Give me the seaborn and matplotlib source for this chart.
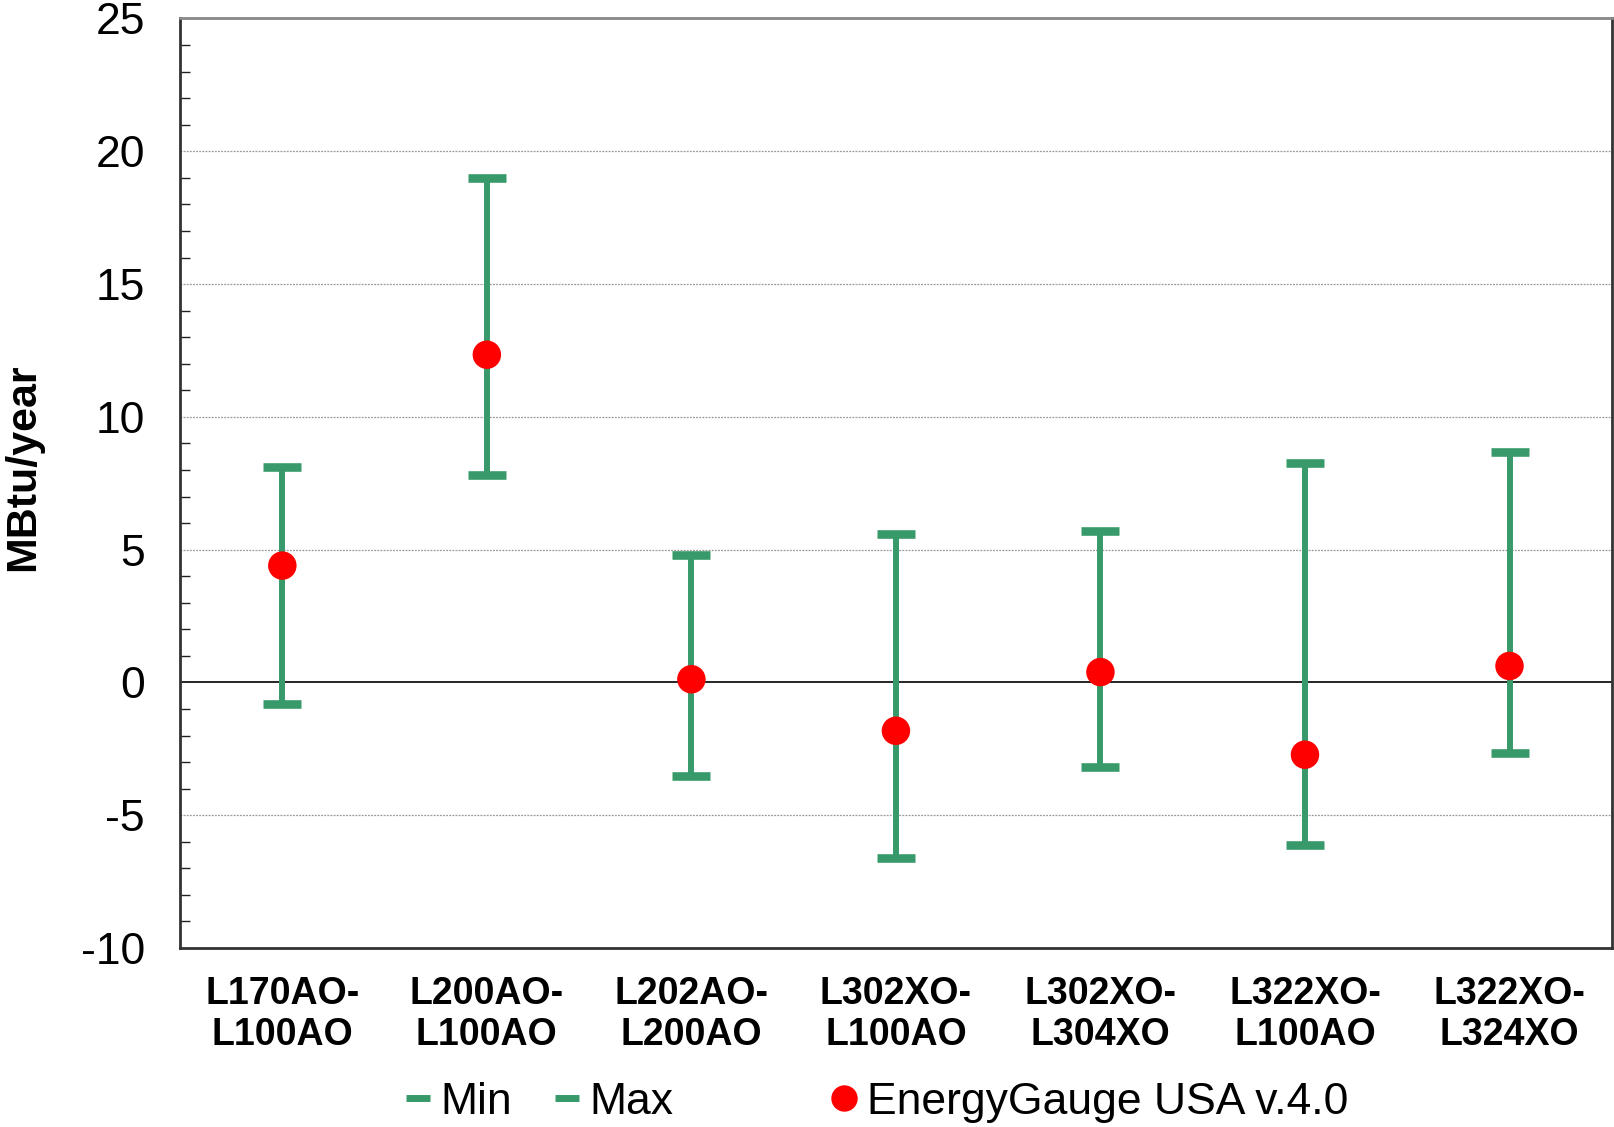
import numpy as np
import pandas as pd
import seaborn as sns
import matplotlib
matplotlib.use("Agg")
from matplotlib import pyplot as plt
from matplotlib.lines import Line2D
from matplotlib.ticker import MultipleLocator

# chart data
cases = ['L170AO-\nL100AO', 'L200AO-\nL100AO', 'L202AO-\nL200AO', 'L302XO-\nL100AO',
         'L302XO-\nL304XO', 'L322XO-\nL100AO', 'L322XO-\nL324XO']
min_vals = [-0.82, 7.8, -3.52, -6.6, -3.18, -6.13, -2.64]
max_vals = [8.1, 18.98, 4.81, 5.6, 5.7, 8.27, 8.69]
egusa_vals = [4.4, 12.34, 0.12, -1.82, 0.39, -2.72, 0.62]

green = '#389A6A'
red = '#FF0000'

sns.set_style('white')
plt.rcParams['font.family'] = ['Liberation Sans', 'DejaVu Sans']
plt.rcParams['axes.unicode_minus'] = False
plt.rcParams['text.color'] = 'black'
plt.rcParams['xtick.color'] = 'black'
plt.rcParams['ytick.color'] = 'black'
plt.rcParams['axes.labelcolor'] = 'black'

df = pd.DataFrame({'case': cases, 'Min': min_vals, 'Max': max_vals, 'EGUSA': egusa_vals})
x = np.arange(len(cases))

fig = plt.figure(figsize=(16.15, 11.27), dpi=100)
ax = fig.add_axes([0.1115, 0.1588, 0.8865, 0.8248])

# high-low lines
ax.vlines(x, df['Min'], df['Max'], color=green, linewidth=4.3, zorder=3)
# min / max dash markers
ax.plot(x, df['Min'], linestyle='none', marker='_', markersize=27, markeredgewidth=6.2,
        color=green, zorder=4)
ax.plot(x, df['Max'], linestyle='none', marker='_', markersize=27, markeredgewidth=6.2,
        color=green, zorder=4)
# EnergyGauge points
sns.scatterplot(x=x, y=df['EGUSA'], ax=ax, color=red, s=420, edgecolor='none', zorder=5,
                legend=False)

ax.set_xlim(-0.5, len(cases) - 0.5)
ax.set_ylim(-10, 25)
ax.yaxis.set_major_locator(MultipleLocator(5))
ax.yaxis.set_minor_locator(MultipleLocator(1))
ax.set_xticks(x)
ax.set_xticklabels(cases, fontsize=27, fontweight='bold', linespacing=1.2)
ax.tick_params(axis='x', length=0, pad=20)
ax.tick_params(axis='y', which='major', direction='inout', length=18.5, width=1.2,
               labelsize=32, pad=16, color='#222222')
ax.tick_params(axis='y', which='minor', direction='in', length=7, width=1.0,
               color='#222222', left=True)

for v in [-5, 5, 10, 15, 20]:
    ax.axhline(v, color='#999999', linewidth=0.9, linestyle=(0, (1.5, 1)), zorder=1)
ax.axhline(0, color='black', linewidth=1.2, zorder=2)

for side in ['left', 'right', 'bottom']:
    ax.spines[side].set_color('#333333')
    ax.spines[side].set_linewidth(2)
ax.spines['top'].set_color('#888888')
ax.spines['top'].set_linewidth(2)

ax.set_ylabel('MBtu/year', fontsize=31, fontweight='bold')
ax.yaxis.set_label_coords(-0.096, 0.517)
ax.set_xlabel('')

h_min = Line2D([], [], color=green, marker='_', linestyle='none', markersize=17,
               markeredgewidth=5)
h_max = Line2D([], [], color=green, marker='_', linestyle='none', markersize=17,
               markeredgewidth=5)
h_eg = Line2D([], [], color=red, marker='o', linestyle='none', markersize=19,
              markeredgewidth=0)
fig.legend([h_min, h_max], ['Min', 'Max'], loc='center left', bbox_to_anchor=(0.252, 0.022),
           ncol=2, frameon=False, fontsize=32, handlelength=0.5, handletextpad=0.25,
           columnspacing=1.0, borderpad=0, borderaxespad=0)
fig.legend([h_eg], ['EnergyGauge USA v.4.0'], loc='center left',
           bbox_to_anchor=(0.516, 0.022), frameon=False, fontsize=32, handlelength=0.5,
           handletextpad=0.25, borderpad=0, borderaxespad=0)

plt.savefig('out.png', dpi=100)
